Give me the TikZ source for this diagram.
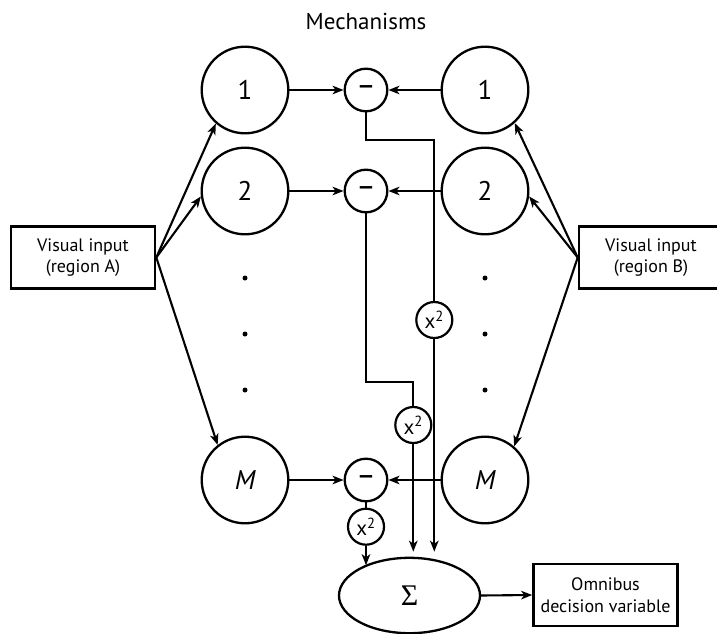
\documentclass[tikz,border=0pt]{standalone}
\usepackage{fontspec}
\setmainfont{PT Sans}
\newfontfamily\sigmafont{Liberation Serif}
\newfontfamily\dashfont{Liberation Sans}
\usetikzlibrary{arrows.meta,shapes.geometric}

\tikzset{
  unit/.style={circle, draw, line width=2.3pt, minimum size=86.6pt, inner sep=0pt, font=\fontsize{27}{30}\selectfont},
  diffop/.style={circle, draw, line width=2.3pt, minimum size=42.6pt, inner sep=0pt, font=\dashfont\fontsize{25}{28}\selectfont\bfseries},
  sqop/.style={circle, draw, line width=2.2pt, minimum size=36pt, inner sep=0pt, font=\fontsize{21}{22}\selectfont},
  inbox/.style={rectangle, draw, line width=2.6pt, minimum width=144pt, minimum height=61.7pt, inner sep=0pt, align=center, font=\fontsize{18}{21.7}\selectfont},
  wire/.style={line width=2.1pt},
  arr/.style={wire, -{Stealth[length=11pt, width=8.5pt, inset=3pt]}},
  dotmark/.style={circle, fill, inner sep=0pt, minimum size=5pt}
}

\begin{document}
\begin{tikzpicture}[x=1pt, y=-1pt]
  \clip (0,0) rectangle (717,634);
  \useasboundingbox (0,0) rectangle (717,634);

  % heading
  \node[font=\fontsize{23}{25}\selectfont] (title) at (366,21) {Mechanisms};

  % mechanisms driven by region A
  \node[unit] (L1) at (245,90) {1};
  \node[unit] (L2) at (245,191) {2};
  \node[unit] (LM) at (245,480) {\itshape M};
  % mechanisms driven by region B
  \node[unit] (R1) at (485,90) {1};
  \node[unit] (R2) at (485,191) {2};
  \node[unit] (RM) at (485,480) {\itshape M};

  % ellipsis dots
  \node[dotmark] (la) at (245,278) {};
  \node[dotmark] (lb) at (245,334) {};
  \node[dotmark] (lc) at (245,390) {};
  \node[dotmark] (ra) at (485,278) {};
  \node[dotmark] (rb) at (485,334) {};
  \node[dotmark] (rc) at (485,390) {};

  % difference units
  \node[diffop] (D1) at (366,90) {–};
  \node[diffop] (D2) at (366,191) {–};
  \node[diffop] (DM) at (366,480) {–};

  % squaring units
  \node[sqop] (Q1) at (434.3,320) {x\textsuperscript{2}};
  \node[sqop] (Q2) at (413.3,425) {x\textsuperscript{2}};
  \node[sqop] (QM) at (366,526.7) {x\textsuperscript{2}};

  % summation and output
  \node[ellipse, draw, line width=2.3pt, minimum width=141pt, minimum height=75.4pt, inner sep=0pt, font=\sigmafont\fontsize{30}{32}\selectfont] (S) at (409.5,595.5) {Σ};
  \node[inbox] (O) at (605.5,595) {Omnibus\\decision variable};

  % visual inputs
  \node[inbox] (A) at (83,257.5) {Visual input\\(region A)};
  \node[inbox] (B) at (651,257.5) {Visual input\\(region B)};

  % routing points
  \coordinate (k1) at (366,140);
  \coordinate (k2) at (366,381.7);
  \coordinate (e1) at (434.3,551.7);
  \coordinate (e2) at (413.3,551.7);

  % inputs to mechanisms
  \draw[arr] (A.east) -- (L1.229);
  \draw[arr] (A.east) -- (L2.187);
  \draw[arr] (A.east) -- (LM.128);
  \draw[arr] (B.west) -- (R1.312);
  \draw[arr] (B.west) -- (R2.353);
  \draw[arr] (B.west) -- (RM.49);

  % mechanisms to difference units
  \draw[arr] (L1.east) -- (D1.west);
  \draw[arr] (R1.west) -- (D1.east);
  \draw[arr] (L2.east) -- (D2.west);
  \draw[arr] (R2.west) -- (D2.east);
  \draw[arr] (LM.east) -- (DM.west);
  \draw[arr] (RM.west) -- (DM.east);

  % differences to squaring units
  \draw[wire] (D1.south) -- (k1) -| (Q1.north);
  \draw[wire] (D2.south) -- (k2) -| (Q2.north);
  \draw[wire] (DM.south) -- (QM.north);

  % squared differences to the sum
  \draw[arr] (Q1.south) -- (e1);
  \draw[arr] (Q2.south) -- (e2);
  \draw[arr] (QM.south) -- (QM.south |- S.146);

  % sum to output
  \draw[arr] (S.east) -- (O.west);
\end{tikzpicture}
\end{document}
